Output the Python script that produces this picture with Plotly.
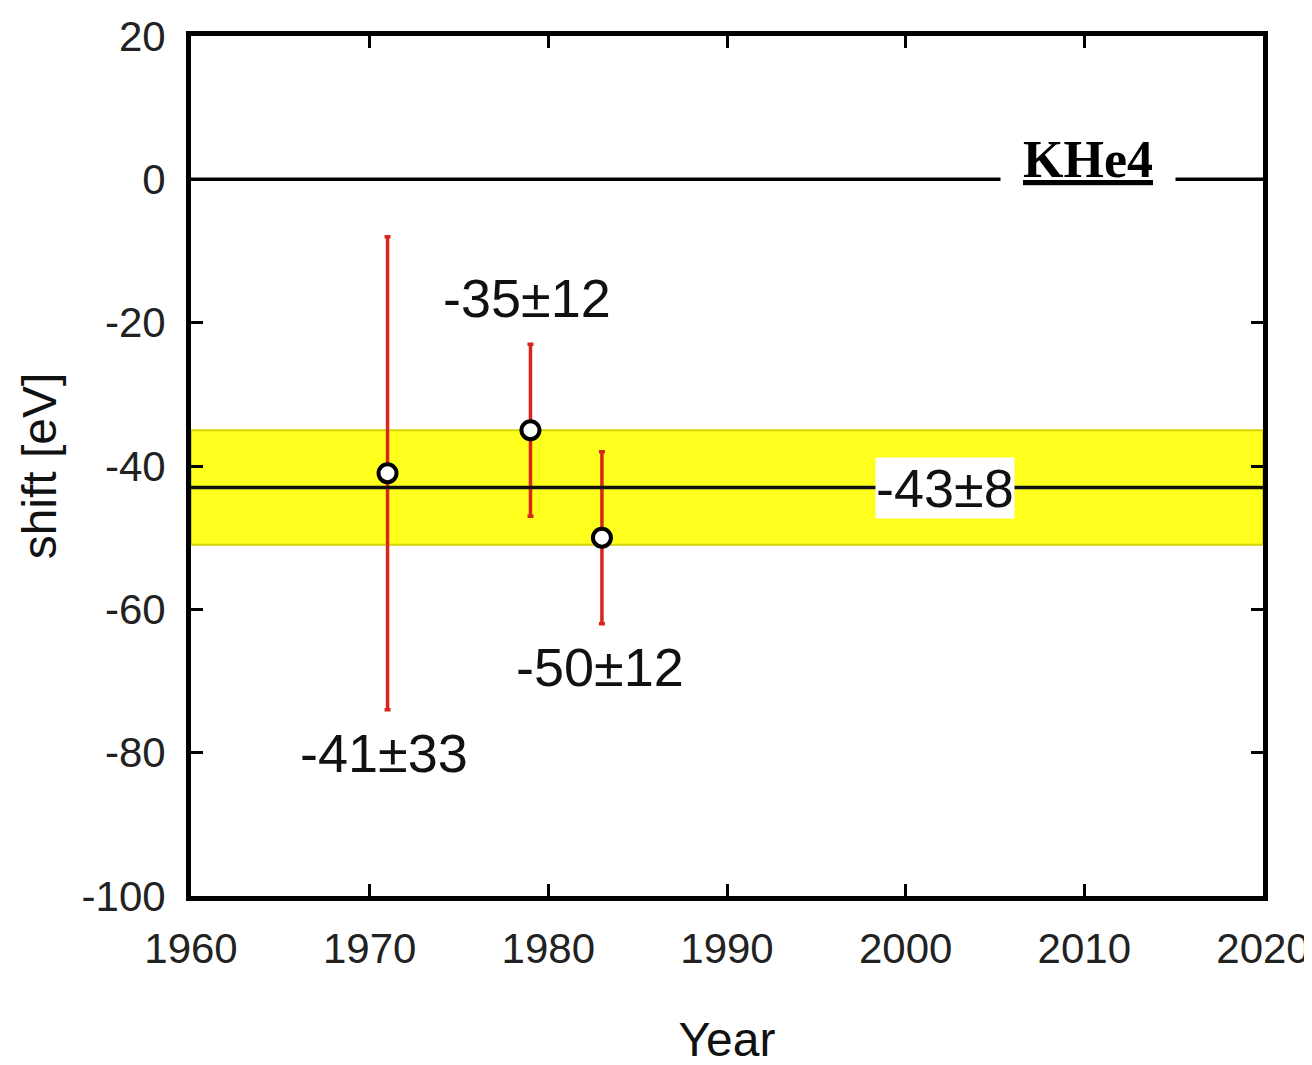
import plotly.graph_objects as go

# Data
years = [1971, 1979, 1983]
shifts = [-41, -35, -50]
errors = [33, 12, 12]
labels = ["-41±33", "-35±12", "-50±12"]
label_x = [1970.8, 1978.8, 1982.9]
label_y = [-80, -16.5, -68]

mean_shift = -43
mean_err = 8
mean_label = "-43±8"
mean_label_x = 2002.2

title_text = "KHe4"
title_x = 2010.2

x_ticks = [1960, 1970, 1980, 1990, 2000, 2010, 2020]
y_ticks = [20, 0, -20, -40, -60, -80, -100]
y_tick_text = ["20", "0", "-20", "-40", "-60", "-80", "-100"]

tick_font = dict(family="Liberation Sans Narrow, Arial Narrow, Liberation Sans, Arial, sans-serif", size=42, color="#222")
ann_font = dict(family="Liberation Sans, Arial, sans-serif", size=54, color="#111")

fig = go.Figure()

# yellow band
fig.add_shape(type="rect", xref="x", yref="y", x0=1960, x1=2020,
              y0=mean_shift - mean_err, y1=mean_shift + mean_err,
              fillcolor="#ffff1e", line=dict(color="#d4d400", width=2), layer="below")
# mean line
fig.add_shape(type="line", xref="x", yref="y", x0=1960, x1=2020,
              y0=mean_shift, y1=mean_shift, line=dict(color="#111", width=3.5))
# zero line
fig.add_shape(type="line", xref="x", yref="y", x0=1960, x1=2020,
              y0=0, y1=0, line=dict(color="#000", width=3.5))

fig.add_trace(go.Scatter(
    x=years, y=shifts, mode="markers",
    error_y=dict(type="data", array=errors, color="#d8261c", thickness=3.5, width=3),
    marker=dict(symbol="circle", size=18, color="white", line=dict(color="black", width=4)),
    showlegend=False,
))

for lx, ly, t in zip(label_x, label_y, labels):
    fig.add_annotation(x=lx, y=ly, text=t, showarrow=False, font=ann_font)

fig.add_annotation(x=mean_label_x, y=mean_shift, text=mean_label, showarrow=False,
                   font=ann_font, bgcolor="white", borderpad=0)

fig.add_annotation(x=title_x, y=2.8, text="<u><b>" + title_text + "</b></u>", showarrow=False,
                   font=dict(family="Liberation Serif, Times New Roman, serif", size=52, color="black"),
                   bgcolor="white", borderpad=22, yanchor="middle")

fig.update_xaxes(range=[1960, 2020], tickvals=x_ticks, ticks="inside", ticklen=12, tickwidth=3,
                 tickcolor="black", showline=True, linewidth=5, linecolor="black", mirror="ticks",
                 showgrid=False, zeroline=False, tickfont=tick_font, automargin=False,
                 ticklabelstandoff=12,
                 title=dict(text="Year", font=dict(family="Liberation Sans, Arial, sans-serif", size=48, color="#111"), standoff=52))
fig.update_yaxes(range=[-100, 20], tickvals=y_ticks, ticktext=y_tick_text, ticks="inside", ticklen=12, tickwidth=3,
                 tickcolor="black", showline=True, linewidth=5, linecolor="black", mirror="ticks",
                 showgrid=False, zeroline=False, tickfont=tick_font, automargin=False,
                 ticklabelstandoff=12,
                 title=dict(text="shift [eV]", font=dict(family="Liberation Sans, Arial, sans-serif", size=48, color="#111"), standoff=11))

fig.update_layout(width=1312, height=1065, margin=dict(l=183, r=57, t=28, b=177),
                  plot_bgcolor="white", paper_bgcolor="white")

fig.write_html("out.html")
